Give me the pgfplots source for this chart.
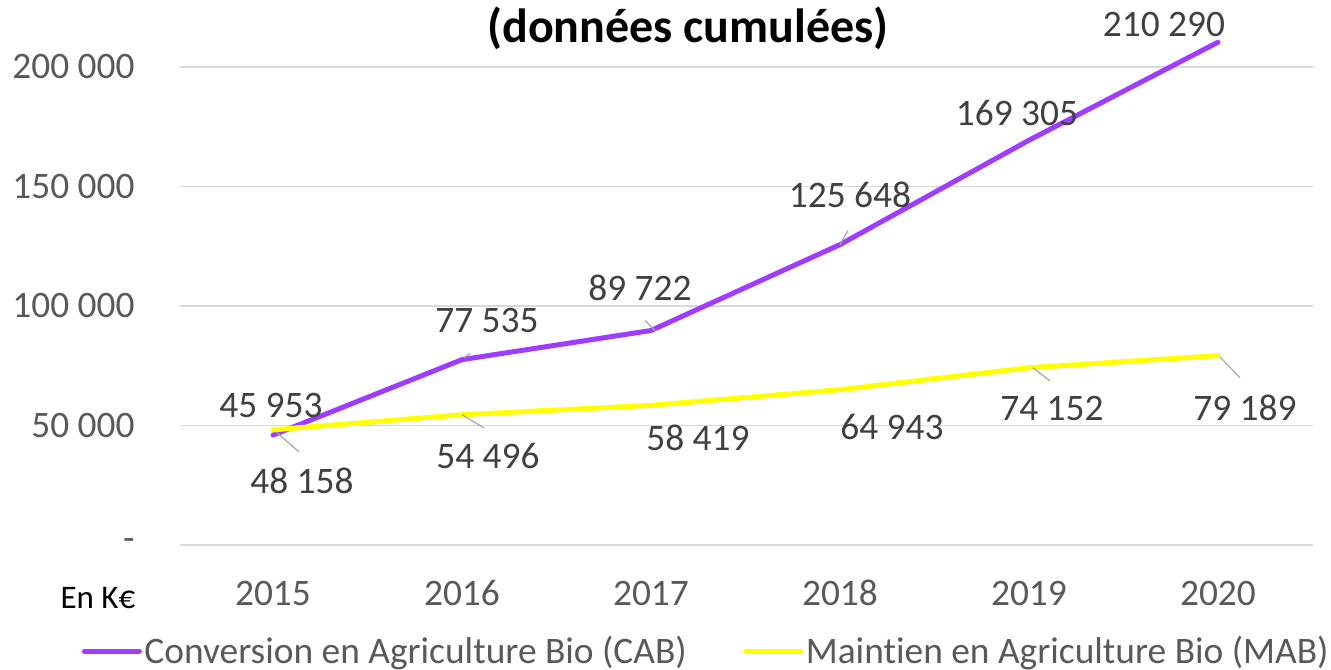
\documentclass[border=0pt]{standalone}
\usepackage{pgfplots}
\pgfplotsset{compat=1.18}
\usepackage{fontspec}
\setmainfont{Carlito}[Ligatures=NoCommon]
\definecolor{cab}{RGB}{160,60,255}
\definecolor{mab}{RGB}{255,255,0}
\definecolor{gridc}{RGB}{217,217,217}
\definecolor{ticktxt}{RGB}{89,89,89}
\definecolor{lbltxt}{RGB}{64,64,64}
\definecolor{leader}{RGB}{166,166,166}
\newcommand\chfont{\fontsize{18.7bp}{22bp}\selectfont}
\begin{document}
\begin{tikzpicture}
\useasboundingbox (-90bp,-62.5bp) rectangle (575.5bp,272.5bp);
\begin{axis}[
  scale only axis,
  width=566.5bp, height=257bp,
  xmin=2014.508, xmax=2020.503,
  ymin=0, ymax=215000,
  scaled y ticks=false,
  axis line style={draw=none},
  major tick length=0pt,
  ymajorgrids,
  grid style={gridc, line width=0.75bp},
  ytick={0,50000,100000,150000,200000},
  yticklabels={-,50 000,100 000,150 000,200 000},
  xtick={2015,2016,2017,2018,2019,2020},
  xticklabels={2015,2016,2017,2018,2019,2020},
  tick label style={font=\chfont, text=ticktxt},
  yticklabel style={anchor=east, inner sep=0pt, xshift=-22.5bp},
  xticklabel style={anchor=center, inner sep=0pt, yshift=-24bp},
  clip=false,
  legend columns=2,
  legend style={at={(axis description cs:0.4647,0)}, anchor=center, yshift=-53bp,
    draw=none, fill=none, font=\chfont, text=ticktxt,
    inner sep=0pt, nodes={inner sep=1.25bp},
    /tikz/every even column/.append style={column sep=27bp}},
  legend cell align=left,
  legend image code/.code={\draw[#1] (0bp,0bp) -- (27.5bp,0bp);},
  every node near coord/.append style={font=\chfont, text=lbltxt, anchor=center, inner sep=0pt},
]
\addplot[cab, line width=2.5bp, line cap=round, line join=round,
  nodes near coords={\pgfmathprintnumber[fixed,precision=0,1000 sep={\ },assume math mode=true]{\pgfplotspointmeta}},
  point meta=explicit,
  visualization depends on={value \thisrow{dx}\as\dx},
  visualization depends on={value \thisrow{dy}\as\dy},
  every node near coord/.append style={xshift=\dx bp, yshift=\dy bp}]
  table[x=x, y=y, meta=y] {
  x    y      dx    dy
  2015 45953  -1    15
  2016 77535  12.5  19.4
  2017 89722  -5.5  21.3
  2018 125648 5     24.9
  2019 169305 -6    13.7
  2020 210290 -27   8.7
};
\addlegendentry{Conversion en Agriculture Bio (CAB)}
\addplot[mab, line width=2.5bp, line cap=round, line join=round,
  nodes near coords={\pgfmathprintnumber[fixed,precision=0,1000 sep={\ },assume math mode=true]{\pgfplotspointmeta}},
  point meta=explicit,
  visualization depends on={value \thisrow{dx}\as\dx},
  visualization depends on={value \thisrow{dy}\as\dy},
  every node near coord/.append style={xshift=\dx bp, yshift=\dy bp}]
  table[x=x, y=y, meta=y] {
  x    y     dx    dy
  2015 48158 14.5  -25.5
  2016 54496 13    -20.6
  2017 58419 23.5  -16.3
  2018 64943 26    -18.6
  2019 74152 11.5  -20.6
  2020 79189 13.5  -26.2
};
\addlegendentry{Maintien en Agriculture Bio (MAB)}
% leader lines
\draw[leader, line width=0.6bp] ([shift={(1.5bp,-1bp)}]axis cs:2015,48158) -- ([shift={(13bp,-11bp)}]axis cs:2015,48158);
\draw[leader, line width=0.6bp] ([shift={(0bp,0bp)}]axis cs:2016,54496) -- ([shift={(11bp,-6.6bp)}]axis cs:2016,54496);
\draw[leader, line width=0.6bp] ([shift={(1bp,1bp)}]axis cs:2016,77535) -- ([shift={(4bp,3bp)}]axis cs:2016,77535);
\draw[leader, line width=0.6bp] ([shift={(2bp,0bp)}]axis cs:2017,89722) -- ([shift={(-3bp,5bp)}]axis cs:2017,89722);
\draw[leader, line width=0.6bp] ([shift={(0bp,0bp)}]axis cs:2018,125648) -- ([shift={(4bp,7bp)}]axis cs:2018,125648);
\draw[leader, line width=0.6bp] ([shift={(2bp,0bp)}]axis cs:2019,74152) -- ([shift={(10.5bp,-6.6bp)}]axis cs:2019,74152);
\draw[leader, line width=0.6bp] ([shift={(1bp,-0.6bp)}]axis cs:2020,79189) -- ([shift={(11bp,-11bp)}]axis cs:2020,79189);
% texts
\node[font=\fontsize{16.5bp}{19bp}\selectfont, text=black, anchor=center, inner sep=0pt]
  at ([shift={(-41bp,-26.5bp)}]axis description cs:0,0) {En K€};
\node[font=\fontsize{24bp}{28bp}\selectfont\bfseries, text=black, anchor=center, inner sep=0pt]
  at ([shift={(254bp,258.5bp)}]axis description cs:0,0) {(données cumulées)};
\end{axis}
\end{tikzpicture}
\end{document}
